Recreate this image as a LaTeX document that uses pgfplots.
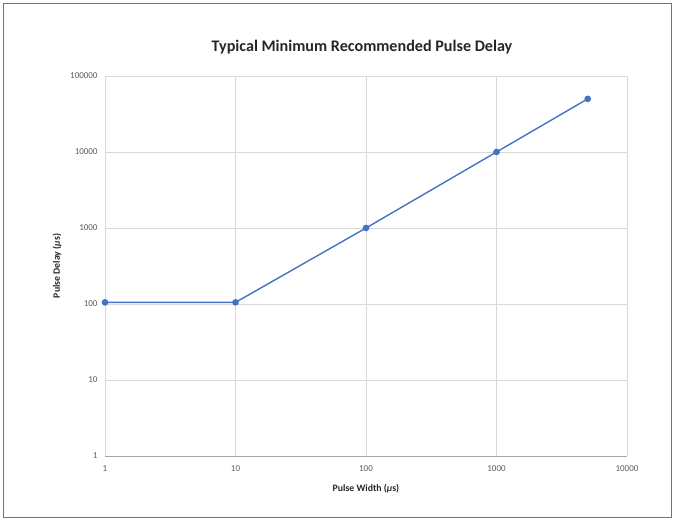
\documentclass[border=0pt]{standalone}
\usepackage{pgfplots}
\pgfplotsset{compat=1.18}
\usepackage{fontspec}
\setmainfont{Carlito}
\definecolor{lineblue}{HTML}{4472C4}
\definecolor{gridc}{HTML}{D9D9D9}
\definecolor{tickc}{HTML}{595959}
\begin{document}
\begin{tikzpicture}[x=1bp,y=1bp]
\useasboundingbox (0,0) rectangle (675,520);
\draw[color=black!55, line width=0.8bp] (3,3) rectangle (671,517);
\begin{axis}[
  at={(105bp,64bp)}, anchor=south west,
  scale only axis, width=522bp, height=380bp,
  xmode=log, ymode=log,
  xmin=1, xmax=10000, ymin=1, ymax=100000,
  xtick={1,10,100,1000,10000}, xticklabels={1,10,100,1000,10000},
  ytick={1,10,100,1000,10000,100000}, yticklabels={1,10,100,1000,10000,100000},
  major tick length=0pt, minor tick length=0pt,
  grid=major, major grid style={draw=gridc, line width=0.7bp},
  minor grid style={draw=none},
  axis x line*=bottom, axis y line*=left,
  x axis line style={draw=black!35, line width=0.8bp, -},
  y axis line style={draw=gridc, line width=0.8bp, -},
  tick label style={font=\fontsize{9}{10}\selectfont, text=tickc},
  xticklabel style={yshift=-6bp},
  yticklabel style={xshift=-4bp},
  xlabel={\bfseries Pulse Width (\textit{μ}s)},
  ylabel={\bfseries Pulse Delay (\textit{μ}s)},
  label style={font=\fontsize{9.8}{11}\selectfont, text=black!85},
  xlabel style={yshift=-6bp},
  ylabel style={yshift=2bp},
  clip=false,
]
\addplot[color=lineblue, line width=1.4bp, mark=*, mark size=2.6bp, mark options={fill=lineblue, draw=lineblue}]
  coordinates {(1,105) (10,105) (100,1000) (1000,10000) (5000,50000)};
\end{axis}
\node[font=\bfseries\fontsize{16.2}{18}\selectfont, text=black!85] at (362,473) {Typical Minimum Recommended Pulse Delay};
\end{tikzpicture}
\end{document}
